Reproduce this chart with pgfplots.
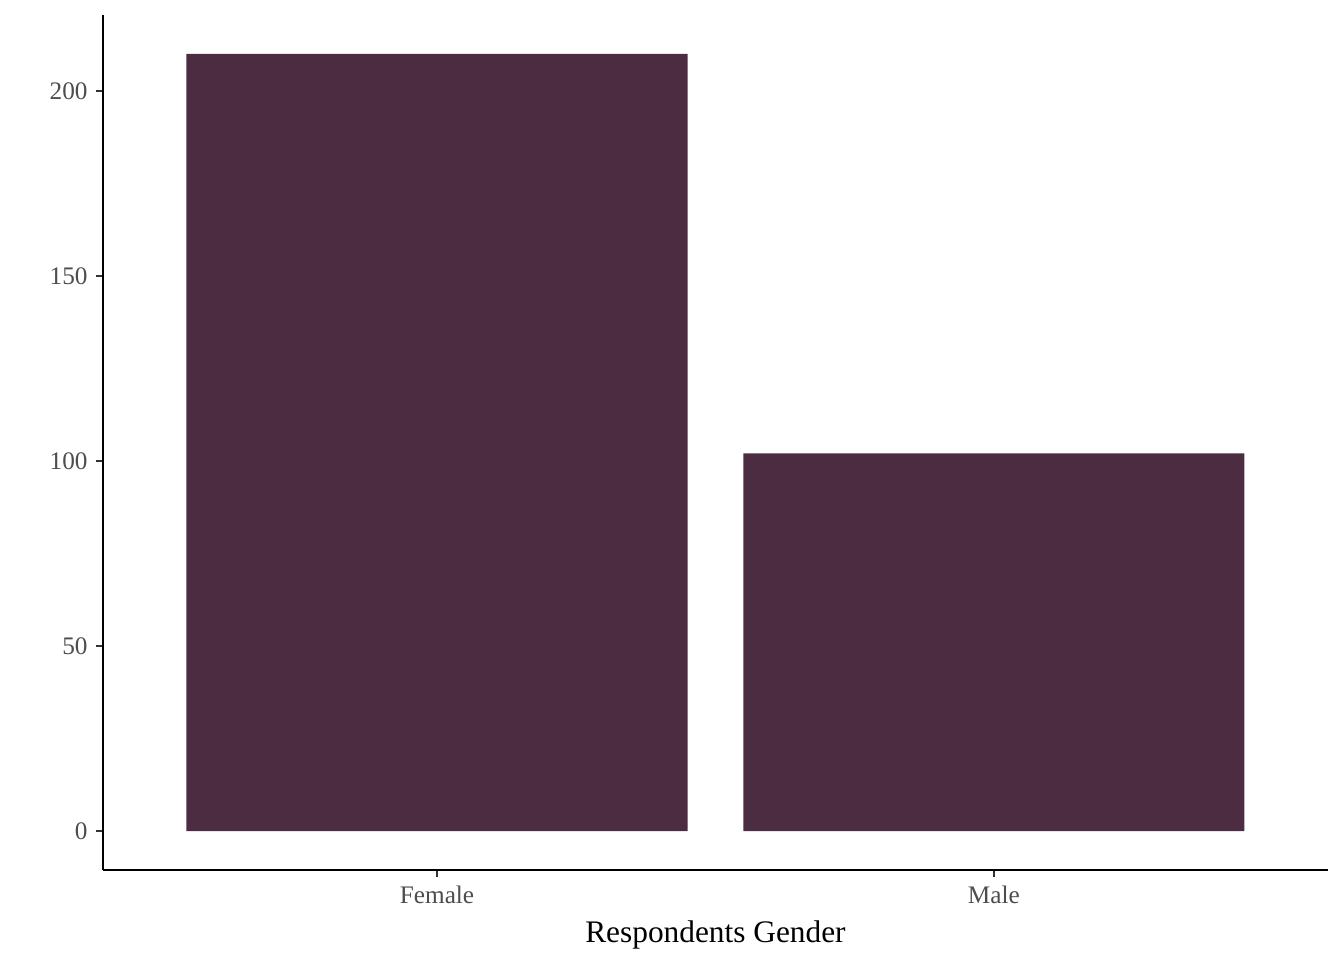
\documentclass[border=0pt]{standalone}
\usepackage{pgfplots}
\pgfplotsset{compat=1.18}
\usepackage{fontspec}
\setmainfont{Liberation Serif}
\definecolor{barcol}{HTML}{4B2C40}
\definecolor{ticktext}{HTML}{4D4D4D}
\definecolor{tickline}{HTML}{333333}
\begin{document}
\begin{tikzpicture}
\begin{axis}[
  scale only axis,
  width=459.4bp, height=320.6bp,
  xmin=0.4, xmax=2.6,
  ymin=-10.5, ymax=220.5,
  axis x line*=bottom, axis y line*=left,
  axis line style={black, line width=0.75pt, -},
  xtick={1,2}, xticklabels={Female,Male},
  ytick={0,50,100,150,200},
  tick align=outside,
  major tick length=2.75pt,
  tick style={tickline, line width=0.75pt},
  ticklabel style={font=\fontsize{9.5}{11}\selectfont, text=ticktext},
  /pgf/number format/assume math mode=true,
  xticklabel style={yshift=0.3pt},
  yticklabel style={xshift=0.5pt},
  xlabel={Respondents Gender},
  xlabel style={font=\fontsize{11.8}{14}\selectfont, yshift=0.5pt},
  clip=false,
]
\addplot[ybar, bar width=0.9, fill=barcol, draw=none, bar shift=0pt] coordinates {(1,210) (2,102)};
\path (rel axis cs:0,0) ++(-38.6bp,-33.8bp) rectangle ++(504bp,360bp);
\end{axis}
\end{tikzpicture}
\end{document}
